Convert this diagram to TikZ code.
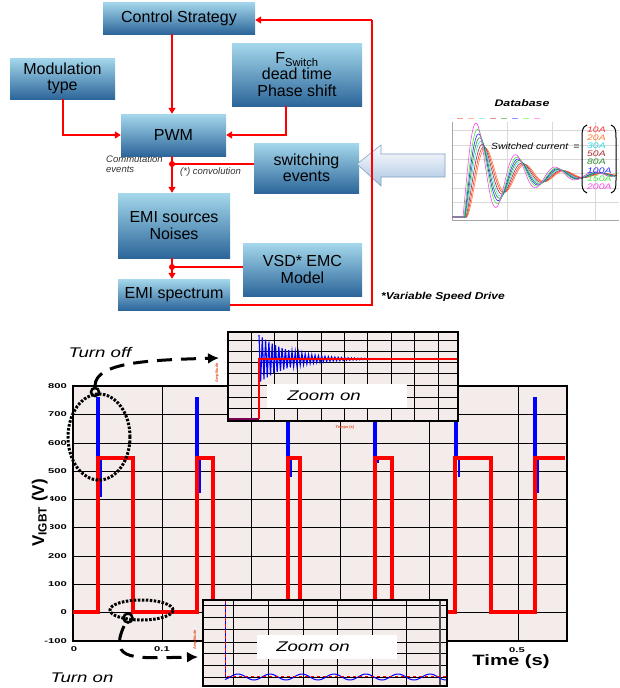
\documentclass[tikz,border=0pt]{standalone}
\usepackage{fontspec}
\setmainfont{Liberation Sans}
\usepackage{graphicx}
\usetikzlibrary{arrows.meta, calc}

\newcommand{\wide}[2]{\scalebox{#1}[1]{#2}}

\begin{document}
\begin{tikzpicture}[x=1pt, y=-1pt,
  block/.style={rectangle, top color=boxtop, bottom color=boxbot, inner sep=0pt, align=center, font=\fontsize{16}{16.5}\selectfont},
  link/.style={red, line width=2pt},
  linkarr/.style={link, -{Triangle[length=6pt, width=7pt]}},
  jdot/.style={circle, fill=red, inner sep=0pt, minimum size=6pt},
  smalltxt/.style={font=\fontsize{9.5}{10}\itshape\selectfont, text=black!80, inner sep=0pt},
  gridln/.style={black, line width=0.8pt},
  plotframe/.style={draw=black, line width=1.4pt, fill=plotbg},
  spike/.style={blue, line width=4.5pt},
  wave/.style={red, line width=4pt, line join=miter},
  ticklab/.style={font=\fontsize{7}{7}\bfseries\selectfont, inner sep=0pt},
  zoomtxt/.style={font=\fontsize{14}{14}\itshape\selectfont, inner sep=0pt},
  turnring/.style={black, line width=3pt, dash pattern=on 2.5pt off 1.5pt},
  turnarr/.style={black, line width=3pt, dash pattern=on 15pt off 9pt, -{Latex[length=11pt, width=11pt]}},
  insetlab/.style={text=insetred, font=\fontsize{4}{4}\bfseries\selectfont, inner sep=0pt}
]
\definecolor{boxtop}{RGB}{165,216,236}
\definecolor{boxbot}{RGB}{44,102,154}
\definecolor{plotbg}{RGB}{244,235,235}
\definecolor{arrowfill}{RGB}{170,196,226}
\definecolor{arrowedge}{RGB}{130,160,195}
\definecolor{insetred}{RGB}{225,80,30}
\definecolor{cA}{RGB}{255,50,50}
\definecolor{cB}{RGB}{255,120,50}
\definecolor{cC}{RGB}{50,220,230}
\definecolor{cD}{RGB}{170,40,50}
\definecolor{cE}{RGB}{40,140,40}
\definecolor{cF}{RGB}{40,40,255}
\definecolor{cG}{RGB}{60,240,60}
\definecolor{cH}{RGB}{250,70,230}

\useasboundingbox (0,0) rectangle (619,688);

\node[block, minimum width=152pt, minimum height=32pt] (cs) at (179,18) {Control Strategy};
\node[block, minimum width=105pt, minimum height=41pt] (mod) at (62.5,78.5) {Modulation\\type};
\node[block, minimum width=130pt, minimum height=63pt] (fsw) at (297,74.5) {F\textsubscript{Switch}\\dead time\\Phase shift};
\node[block, minimum width=105pt, minimum height=42pt] (pwm) at (173.5,135) {PWM};
\node[block, minimum width=105pt, minimum height=50pt] (sw) at (306.5,168) {switching\\events};
\node[block, minimum width=112pt, minimum height=65pt] (emi) at (174,225.5) {EMI sources\\Noises};
\node[block, minimum width=119pt, minimum height=53pt] (vsd) at (302.5,269.5) {VSD* EMC\\Model};
\node[block, minimum width=112pt, minimum height=31pt] (spec) at (174,294.5) {EMI spectrum};

\node[smalltxt, anchor=west] (comm1) at (106,159) {Commutation};
\node[smalltxt, anchor=west] (comm2) at (106,169) {events};
\node[smalltxt, anchor=west] (conv) at (180,172) {(*) convolution};
\node[font=\fontsize{10}{10}\bfseries\itshape\selectfont, anchor=west, inner sep=0pt] (vsdnote) at (381,297) {\wide{1.2}{*Variable Speed Drive}};

\shade[top color=white, bottom color=arrowfill, draw=arrowedge, line width=0.6pt] (357,164) -- (381,145) -- (381,154) -- (445,154) -- (445,177) -- (381,177) -- (381,186) -- cycle;

\coordinate (j1) at (172,164);
\coordinate (j2) at (172,267);
\coordinate (rt) at (372,305);
\coordinate (rt2) at (372,20);
\draw[linkarr] (cs.south -| j1) -- (j1 |- pwm.north);
\draw[linkarr] (mod.south) |- (pwm.west);
\draw[linkarr] ([xshift=-11pt]fsw.south) |- (pwm.east);
\draw[linkarr] (j1 |- pwm.south) -- (j1 |- emi.north);
\draw[link] (sw.west |- j1) -- (j1);
\node[jdot] (jd1) at (j1) {};
\draw[linkarr] (j1 |- emi.south) -- (j1 |- spec.north);
\draw[link] (vsd.west |- j2) -- (j2);
\node[jdot] (jd2) at (j2) {};
\draw[link] (spec.east |- rt) -- (rt) -- (rt2);
\draw[linkarr] (rt2) -- (cs.east |- rt2);

\node[font=\fontsize{9.5}{10}\bfseries\itshape\selectfont, inner sep=0pt] (dbtitle) at (522,103) {\wide{1.3}{Database}};
\foreach \gx in {507,552,595} \draw[black!15, line width=0.4pt] (\gx,122) -- (\gx,220);
\foreach \gy in {130,145,159,173,188,202} \draw[black!15, line width=0.4pt] (452,\gy) -- (619,\gy);
\draw[black!35, line width=0.5pt] (452,122) -- (452,220) -- (619,220);
\foreach \cc [count=\k] in {cA,cB,cC,cD,cE,cF,cG,cH} \draw[\cc!50, line width=1pt] ({446+\k*11},118) -- ({452+\k*11},118);
\foreach \cc/\bb/\dd in {cB/4/4,cA/10/3.5,cD/18/3,cC/26/2.5,cE/33/2,cF/40/1.5,cG/48/1,cH/58/0}
  \draw[\cc, line width=0.6pt] (452,217) -- ({463+\dd},217) -- plot[domain=0:150, samples=110] ({463+\dd+\x},{175+exp(-\x/42)*(42*cos(9.11*\x)-\bb*sin(9.11*\x))});
\node[font=\fontsize{9}{9}\itshape\selectfont, inner sep=0pt, anchor=west] (swcur) at (491,146) {\wide{1.15}{Switched current\enspace =}};
\draw[line width=1pt] (587,125) .. controls (582,127) and (582,131) .. (582,138) -- (582,180) .. controls (582,187) and (582,191) .. (587,193);
\draw[line width=1pt] (611,125) .. controls (616,127) and (616,131) .. (616,138) -- (616,180) .. controls (616,187) and (616,191) .. (611,193);
\foreach \cc/\yy/\lab in {cA/130/10A,cB/138/20A,cC/146/30A,cD/154/50A,cE/162/80A,cF/171/100A,cG/179/150A,cH/187/200A}
  \node[text=\cc, font=\fontsize{8}{8}\itshape\selectfont, inner sep=0pt, anchor=west] (leg\lab) at (587,\yy) {\wide{1.3}{\lab}};

\draw[plotframe] (73,386) rectangle (567,641);
\foreach \gx in {162,251,340,429,518} \draw[gridln] (\gx,386) -- (\gx,641);
\foreach \gy in {414,443,471,499,527,556,584,612} \draw[gridln] (73,\gy) -- (567,\gy);
\draw[line width=1.4pt] (73,386) rectangle (567,641);
\foreach \sx/\sb in {98/497,197/493,288/477,375/463,456/477,535/493}{
  \draw[spike] (\sx,397) -- (\sx,458);
  \draw[spike, line width=2pt] (\sx+2.5,458) -- (\sx+2.5,\sb);
}
\draw[wave] (73,612) -- (98,612) -- (98,458) -- (133,458) -- (133,612) -- (197,612) -- (197,458) -- (213,458) -- (213,612) -- (288,612) -- (288,458) -- (300,458) -- (300,612) -- (375,612) -- (375,458) -- (392,458) -- (392,612) -- (455,612) -- (455,458) -- (491,458) -- (491,612) -- (535,612) -- (535,458) -- (565,458);

\foreach \v/\gy in {800/386,700/414,600/443,500/471,400/499,300/527,200/556,100/584,0/612,-100/641}
  \node[ticklab, anchor=east] (yt\v) at (67,\gy) {\wide{1.6}{\v}};
\node[ticklab] (xt0) at (74,649) {\wide{1.6}{0}};
\node[ticklab] (xt1) at (162,649) {\wide{1.6}{0.1}};
\node[ticklab] (xt5) at (517,650) {\wide{1.6}{0.5}};
\node[rotate=90, anchor=base, fill=white, inner sep=2pt, font=\fontsize{17}{17}\bfseries\selectfont] (ylab) at (44,513) {V\textsubscript{IGBT} (V)};
\node[fill=white, inner sep=1pt, font=\fontsize{15}{15}\bfseries\selectfont] (tlab) at (511,662) {\wide{1.35}{Time (s)}};

\draw[turnring] (99,437) ellipse [x radius=31pt, y radius=43pt];
\draw[black, line width=2.5pt] (95,392) circle [radius=4pt];
\draw[turnarr] (95,386) .. controls (95,362) and (150,360) .. (219,358);
\node[zoomtxt] (toff) at (100,352) {\wide{1.33}{Turn off}};

\draw[plotframe] (228,332) rectangle (458,421);
\foreach \gx in {251,274,297,321,344,367,391,414,438} \draw[gridln] (\gx,332) -- (\gx,421);
\foreach \gy in {340,351,362,373,385,397,408} \draw[gridln] (228,\gy) -- (458,\gy);
\draw[blue, line width=1.1pt] plot[domain=0:120, samples=121] ({259+1.65*\x},{359-24*exp(-1.65*\x/30)*cos(180*mod(\x,2))});
\draw[red!60!blue!80!black, line width=1.2pt] (228,419) -- (259,419);
\draw[red, line width=1.2pt] (259,419) -- (259,359) -- (458,359);
\draw[line width=1.4pt] (228,332) rectangle (458,421);
\fill[white] (267,384) rectangle (407,408);
\node[zoomtxt] (zoff) at (324,396) {\wide{1.33}{Zoom on}};
\node[insetlab, rotate=90] (ylab1) at (217,373) {Amplitude};
\node[insetlab] (tlab1) at (345,427) {Temps (s)};

\draw[turnring] (141.5,610) ellipse [x radius=31.5pt, y radius=10pt];
\draw[black, line width=2.5pt] (128,618) circle [radius=4.5pt];
\draw[turnarr] (124,626) .. controls (108,662) and (135,658) .. (198,657);
\node[zoomtxt] (ton) at (82,678) {\wide{1.33}{Turn on}};

\draw[plotframe] (203,600) rectangle (447,686);
\foreach \gx in {233,268,303,337,372,406} \draw[gridln] (\gx,600) -- (\gx,686);
\foreach \gy in {605,617,629,642,653,665,677} \draw[gridln] (203,\gy) -- (447,\gy);
\draw[black!70, line width=1.5pt] (440,600) -- (440,686);
\draw[blue, line width=1pt] (225,600) -- (225,677);
\draw[blue, line width=1pt] plot[domain=225:447, samples=100] (\x,{677-3*sin(11.25*(\x-230))});
\draw[red, dashed, line width=0.8pt] (225,600) -- (225,676) -- (447,676);
\draw[line width=1.4pt] (203,600) rectangle (447,686);
\fill[white] (257,635) rectangle (397,659);
\node[zoomtxt] (zon) at (313,647) {\wide{1.33}{Zoom on}};
\node[insetlab, rotate=90] (ylab2) at (195,640) {Amplitude};
\end{tikzpicture}
\end{document}
